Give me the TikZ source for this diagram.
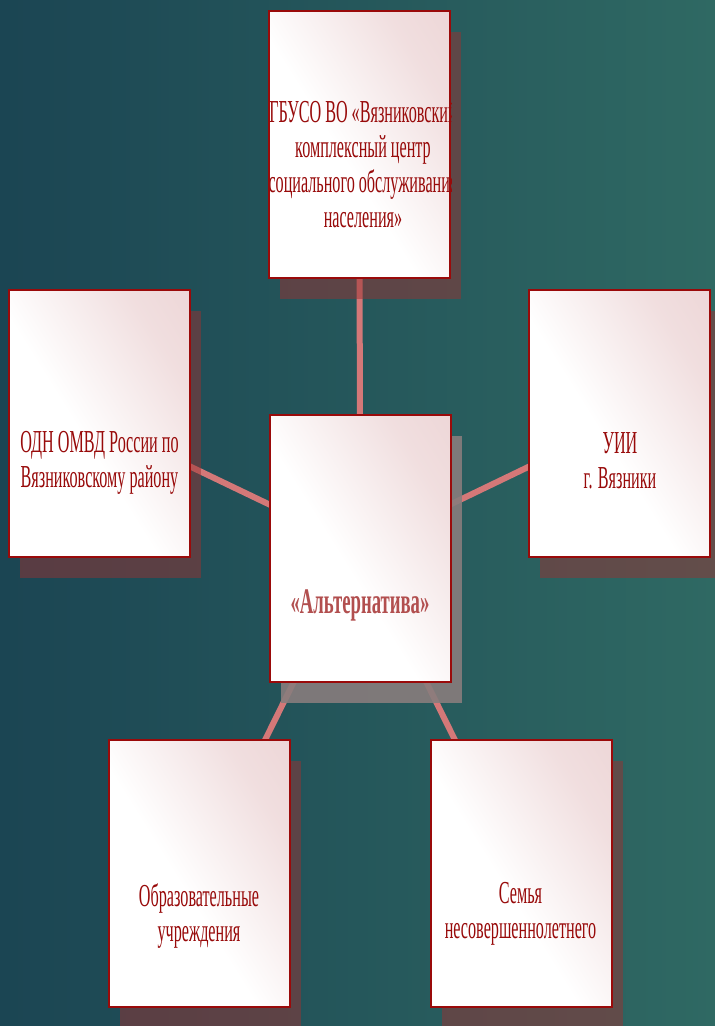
\documentclass[tikz,border=0pt]{standalone}
\usepackage{fontspec}
\setmainfont{Liberation Serif}
\newfontfamily\slidefont[FakeStretch=0.505]{Liberation Serif}
\newfontfamily\titlefont[FakeStretch=0.52]{Liberation Serif}
\usetikzlibrary{shadows}
\definecolor{bgleft}{HTML}{1B4553}
\definecolor{bgright}{HTML}{2F6963}
\definecolor{boxred}{HTML}{9A0A0A}
\definecolor{boxpink}{HTML}{E9CDCE}
\definecolor{textred}{HTML}{980A0A}
\definecolor{titlered}{HTML}{B24F4F}
\definecolor{linkpink}{HTML}{D47878}
\definecolor{shadowred}{HTML}{973333}
\pgfdeclareverticalshading{boxglow}{100bp}{color(0bp)=(white); color(45bp)=(white); color(72bp)=(boxpink!65!white); color(100bp)=(boxpink)}
\pgfdeclarelayer{bg}
\pgfdeclarelayer{links}
\pgfsetlayers{bg,links,main}
\begin{document}
\begin{tikzpicture}[x=1pt, y=-1pt]
\tikzset{orgbox/.style={shape=rectangle, minimum width=181pt, minimum height=267pt, inner sep=0pt, draw=boxred, line width=2pt, shading=boxglow, shading angle=-58, drop shadow={shadow xshift=11pt, shadow yshift=-21pt, fill=shadowred, opacity=0.5}}}
\tikzset{orgtext/.style={align=center, inner sep=0pt, text=textred, font=\slidefont\fontsize{32pt}{35pt}\selectfont}}
\tikzset{orglink/.style={line width=6pt, draw=linkpink}}
\useasboundingbox (0,0) rectangle (715,1026);
% background
\begin{pgfonlayer}{bg}
\fill[left color=bgleft, right color=bgright] (0,0) rectangle (715,1026);
\end{pgfonlayer}
% boxes
\node (alt) [orgbox, drop shadow={shadow xshift=11pt, shadow yshift=-21pt, fill=gray!95, opacity=0.8}] at (360, 548) {};
\node (kcso) [orgbox] at (359.5, 144.5) {};
\node (odn) [orgbox] at (99.5, 423) {};
\node (uii) [orgbox] at (619.5, 423) {};
\node (school) [orgbox] at (199, 873.5) {};
\node (family) [orgbox] at (521, 873.5) {};
% links
\begin{pgfonlayer}{links}
\draw[orglink] (alt.center) -- (kcso.center);
\draw[orglink] (alt.center) -- (odn.center);
\draw[orglink] (alt.center) -- (uii.center);
\draw[orglink] (alt.center) -- (school.center);
\draw[orglink] (alt.center) -- (family.center);
\end{pgfonlayer}
% labels
\begin{scope}
\clip (kcso.south west) rectangle (kcso.north east);
\node (kcsotxt) [orgtext] at (363, 164) {ГБУСО ВО «Вязниковский\\комплексный центр\\социального обслуживания\\населения»};
\end{scope}
\node (odntxt) [orgtext] at (99.5, 463) {ОДН ОМВД России по\\Вязниковскому району};
\node (uiitxt) [orgtext] at (620, 461) {УИИ\\г. Вязники};
\node (alttxt) [orgtext, text=titlered, font=\titlefont\bfseries\fontsize{36pt}{40pt}\selectfont] at (360, 605) {«Альтернатива»};
\node (schooltxt) [orgtext] at (199, 916) {Образовательные\\учреждения};
\node (familytxt) [orgtext] at (520.5, 914) {Семья\\несовершеннолетнего};
\end{tikzpicture}
\end{document}
